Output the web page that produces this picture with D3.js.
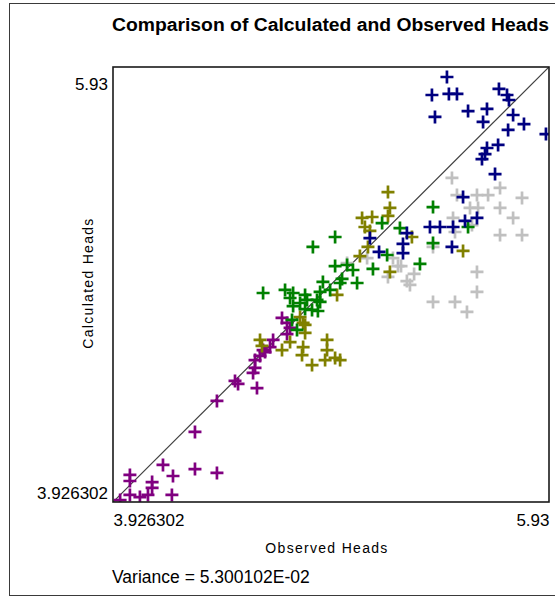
<!DOCTYPE html>
<html>
<head>
<meta charset="utf-8">
<script src="https://cdn.jsdelivr.net/npm/d3@7"></script>
<style>
  html, body { margin: 0; padding: 0; background: #ffffff; }
  svg { display: block; }
  text { font-family: "Liberation Sans", Arial, sans-serif; fill: #000; }
</style>
</head>
<body>
<svg id="chart" width="555" height="599"></svg>
<script>
// ---- data (observed, calculated) ----
const axisMin = 3.926302;
const axisMax = 5.93;
const tickLabels = ["3.926302", "5.93"];
const titleText = "Comparison of Calculated and Observed Heads";
const xTitle = "Observed Heads";
const yTitle = "Calculated Heads";
const varianceText = "Variance = 5.300102E-02";

const grayObs = [5.484,5.507,5.599,5.650,5.705,5.806,5.567,5.604,5.705,5.765,5.489,5.576,5.705,5.806,5.498,5.397,5.599,5.599,5.397,5.498,5.553,5.277,5.310,5.250,5.213,5.002,5.094,5.236,5.190,5.291];
const grayCalc = [5.419,5.340,5.340,5.340,5.373,5.327,5.281,5.281,5.281,5.235,5.235,5.202,5.156,5.156,5.170,5.101,4.986,4.894,4.848,4.848,4.802,4.944,4.977,5.013,5.050,5.027,5.050,5.013,4.963,4.926];

const purpleObs = [4.703,4.726,4.740,4.726,4.662,4.648,4.625,4.602,4.579,4.579,4.570,4.588,4.487,4.501,4.404,4.303,4.156,4.202,4.303,4.404,4.197,4.004,4.004,4.106,4.106,4.087,4.050,4.004,3.959,4.616];
const purpleCalc = [4.774,4.751,4.728,4.700,4.673,4.640,4.617,4.599,4.580,4.544,4.521,4.451,4.484,4.470,4.392,4.249,4.097,4.046,4.078,4.060,3.959,4.051,4.023,4.018,3.991,3.959,3.949,3.959,3.935,4.626];

const oliveObs = [5.190,5.199,5.190,5.071,5.117,5.084,5.107,5.098,5.061,5.199,5.300,5.535,4.956,4.800,4.602,4.611,4.740,4.703,4.800,4.795,4.841,4.910,4.901,4.947,4.970,4.809,4.809,4.910,4.786];
const oliveCalc = [5.354,5.281,5.244,5.235,5.239,5.193,5.175,5.101,5.059,4.986,5.147,5.083,4.880,4.751,4.673,4.645,4.663,4.626,4.640,4.603,4.557,4.673,4.580,4.590,4.580,4.742,4.705,4.626,4.778];

const greenObs = [5.397,5.337,5.558,5.397,4.845,4.947,5.163,5.245,4.947,5.002,5.121,5.048,4.979,4.891,4.878,4.864,4.809,4.754,5.186,4.616,4.717,4.740,4.786,4.754,4.818,4.809,4.841,4.878,4.868,4.924,4.970,4.749,4.772,5.029];
const greenCalc = [5.285,5.023,5.193,5.119,5.101,5.147,5.211,5.188,5.013,5.018,5.000,4.935,4.954,4.940,4.894,4.857,4.880,4.889,5.064,4.889,4.903,4.866,4.843,4.829,4.857,4.815,4.811,4.848,4.806,4.903,4.935,4.765,4.719,4.995];

const navyObs = [5.461,5.392,5.470,5.507,5.406,5.558,5.645,5.627,5.700,5.737,5.746,5.765,5.815,5.742,5.916,5.645,5.696,5.636,5.622,5.682,5.535,5.383,5.429,5.489,5.544,5.599,5.484,5.277,5.259,5.259,5.107,5.149];
const navyCalc = [5.884,5.801,5.806,5.806,5.700,5.727,5.737,5.677,5.829,5.801,5.778,5.709,5.667,5.640,5.621,5.557,5.571,5.529,5.506,5.437,5.331,5.193,5.193,5.193,5.221,5.235,5.101,5.165,5.115,5.073,5.142,5.078];

const seriesNames = ["gray", "purple", "olive", "green", "navy"];
const seriesColors = ["#c0c0c0", "#800080", "#808000", "#008000", "#000080"];
const seriesObs = [grayObs, purpleObs, oliveObs, greenObs, navyObs];
const seriesCalc = [grayCalc, purpleCalc, oliveCalc, greenCalc, navyCalc];

// ---- layout ----
const svg = d3.select("#chart");
const plot = { left: 113, right: 549, top: 67, bottom: 502 };

const x = d3.scaleLinear().domain([axisMin, axisMax]).range([plot.left, plot.right]);
const y = d3.scaleLinear().domain([axisMin, axisMax]).range([plot.bottom, plot.top]);

// outer frame
svg.append("rect")
  .attr("x", 9.5).attr("y", 3.5)
  .attr("width", 560).attr("height", 592)
  .attr("fill", "none").attr("stroke", "#3a3a3a").attr("stroke-width", 1);

// title
svg.append("text")
  .attr("x", 112).attr("y", 31)
  .attr("font-size", 18).attr("font-weight", "bold")
  .attr("textLength", 437).attr("lengthAdjust", "spacingAndGlyphs")
  .text(titleText);

// clip
svg.append("clipPath").attr("id", "plotclip")
  .append("rect")
  .attr("x", plot.left).attr("y", plot.top)
  .attr("width", plot.right - plot.left).attr("height", plot.bottom - plot.top);

const g = svg.append("g").attr("clip-path", "url(#plotclip)");

// 1:1 line
g.append("line")
  .attr("x1", x(axisMin)).attr("y1", y(axisMin))
  .attr("x2", x(axisMax)).attr("y2", y(axisMax))
  .attr("stroke", "#404040").attr("stroke-width", 1.2);

// crosses
const arm = 6.5;
seriesNames.forEach((name, i) => {
  const pts = seriesObs[i].map((v, j) => [v, seriesCalc[i][j]]);
  g.append("g").attr("class", "series-" + name)
    .selectAll("path").data(pts).enter().append("path")
    .attr("d", d => {
      const cx = x(d[0]), cy = y(d[1]);
      return `M${cx - arm},${cy}H${cx + arm}M${cx},${cy - arm}V${cy + arm}`;
    })
    .attr("stroke", seriesColors[i]).attr("stroke-width", 2.7).attr("fill", "none");
});

// plot border
svg.append("rect")
  .attr("x", plot.left).attr("y", plot.top)
  .attr("width", plot.right - plot.left).attr("height", plot.bottom - plot.top)
  .attr("fill", "none").attr("stroke", "#1a1a1a").attr("stroke-width", 1.6);

// axes using d3 axis generators for tick labels
const xAxis = d3.axisBottom(x).tickValues([axisMin, axisMax])
  .tickFormat((d, i) => tickLabels[i]).tickSize(0).tickPadding(0);
const xg = svg.append("g").attr("transform", `translate(0,${plot.bottom})`).call(xAxis);
xg.select(".domain").remove();
xg.selectAll("text")
  .attr("font-size", 17).attr("font-family", "Liberation Sans, Arial, sans-serif")
  .attr("fill", "#000").attr("dy", null).attr("y", 24)
  .attr("text-anchor", (d, i) => i === 0 ? "start" : "end");

const yAxis = d3.axisLeft(y).tickValues([axisMin, axisMax])
  .tickFormat((d, i) => tickLabels[i]).tickSize(0).tickPadding(0);
const yg = svg.append("g").attr("transform", `translate(${plot.left - 5},0)`).call(yAxis);
yg.select(".domain").remove();
yg.selectAll("text")
  .attr("font-size", 17).attr("font-family", "Liberation Sans, Arial, sans-serif")
  .attr("fill", "#000").attr("x", 0)
  .attr("dy", (d, i) => i === 0 ? "-4" : "22")
  .attr("text-anchor", "end");

// axis titles
svg.append("text")
  .attr("x", 327).attr("y", 553)
  .attr("text-anchor", "middle").attr("font-size", 14)
  .attr("letter-spacing", 1.3)
  .text(xTitle);

svg.append("text")
  .attr("transform", "translate(93,283) rotate(-90)")
  .attr("text-anchor", "middle").attr("font-size", 14)
  .attr("letter-spacing", 1.3)
  .text(yTitle);

// variance
svg.append("text")
  .attr("x", 112).attr("y", 583)
  .attr("font-size", 17.5)
  .text(varianceText);
</script>
</body>
</html>
